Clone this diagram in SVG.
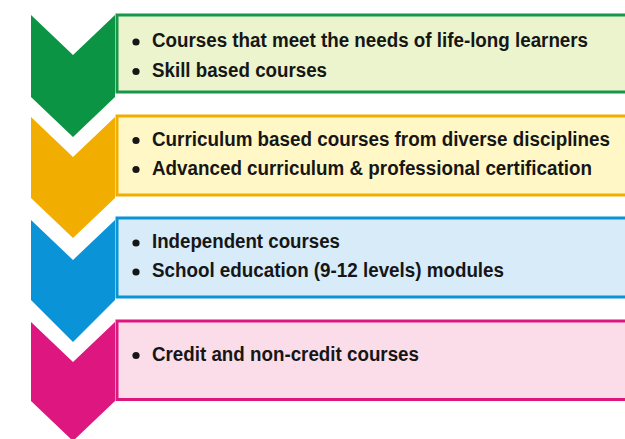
<svg xmlns="http://www.w3.org/2000/svg" width="625" height="439" viewBox="0 0 625 439">
<style>
.t{font-family:"Liberation Sans",Arial,sans-serif;font-weight:bold;font-size:21px;fill:#161616}
.b{fill:#161616}
.box{stroke-width:3}
</style>
<rect width="625" height="439" fill="#ffffff"/>
<g id="step1">
<polygon points="31,15 73,55 115,15 115,97 73,137 31,97" fill="#0b9444"/>
<rect class="box" x="117" y="15" width="520" height="77" fill="#ebf4cc" stroke="#17974a"/>
<circle class="b" cx="136" cy="42" r="3.6"/>
<text class="t" transform="scale(0.88,1)" x="172.73" y="47.5" textLength="495.5" lengthAdjust="spacingAndGlyphs">Courses that meet the needs of life-long learners</text>
<circle class="b" cx="136" cy="71.5" r="3.6"/>
<text class="t" transform="scale(0.88,1)" x="172.73" y="77" textLength="198.9" lengthAdjust="spacingAndGlyphs">Skill based courses</text>
</g>
<g id="step2">
<polygon points="31,117 73,157 115,117 115,198 73,238 31,198" fill="#f1ae00"/>
<rect class="box" x="117" y="116" width="520" height="79" fill="#fff8c6" stroke="#f1ae00"/>
<circle class="b" cx="136" cy="140.5" r="3.6"/>
<text class="t" transform="scale(0.88,1)" x="172.73" y="146" textLength="520.5" lengthAdjust="spacingAndGlyphs">Curriculum based courses from diverse disciplines</text>
<circle class="b" cx="136" cy="169.5" r="3.6"/>
<text class="t" transform="scale(0.88,1)" x="172.73" y="175" textLength="500" lengthAdjust="spacingAndGlyphs">Advanced curriculum &amp; professional certification</text>
</g>
<g id="step3">
<polygon points="31,220 73,260 115,220 115,300 73,342 31,300" fill="#0b93d7"/>
<rect class="box" x="117" y="218" width="520" height="79" fill="#d7ebf9" stroke="#0b93d7"/>
<circle class="b" cx="136" cy="243" r="3.6"/>
<text class="t" transform="scale(0.88,1)" x="172.73" y="248.5" textLength="213.6" lengthAdjust="spacingAndGlyphs">Independent courses</text>
<circle class="b" cx="136" cy="272" r="3.6"/>
<text class="t" transform="scale(0.88,1)" x="172.73" y="277.5" textLength="400" lengthAdjust="spacingAndGlyphs">School education (9-12 levels) modules</text>
</g>
<g id="step4">
<polygon points="31,322 73,362 115,322 115,401 73,441 31,401" fill="#dd1680"/>
<rect class="box" x="117" y="321" width="520" height="78.5" fill="#fbdde9" stroke="#dd1680"/>
<circle class="b" cx="136" cy="355.5" r="3.6"/>
<text class="t" transform="scale(0.88,1)" x="172.73" y="361.5" textLength="303.4" lengthAdjust="spacingAndGlyphs">Credit and non-credit courses</text>
</g>
<g id="connectors"></g>
</svg>
